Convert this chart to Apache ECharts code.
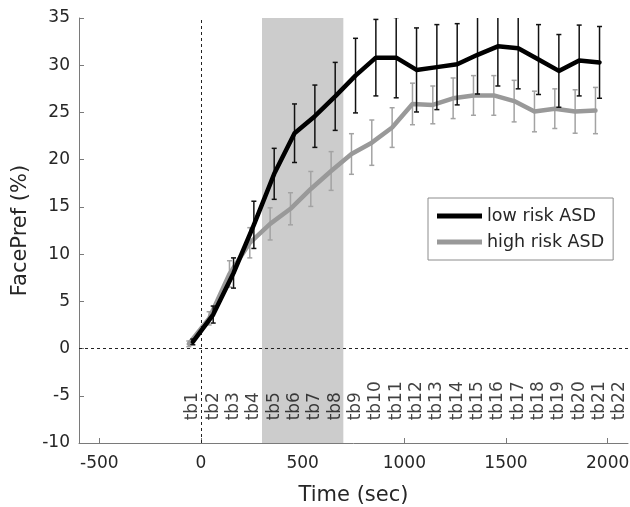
<!DOCTYPE html>
<html>
<head>
<meta charset="utf-8">
<script src="https://cdn.jsdelivr.net/npm/echarts@6/dist/echarts.min.js"></script>
<style>html,body{margin:0;padding:0;background:#fff}#c{width:630px;height:507px}</style>
</head>
<body>
<div id="c"></div>
<script>
const lowTimes  = [-40, 60, 160, 260, 360, 460, 560, 660, 760, 860, 960, 1060, 1160, 1260, 1360, 1460, 1560, 1660, 1760, 1860, 1960];
const highTimes = [-60, 40, 140, 240, 340, 440, 540, 640, 740, 840, 940, 1040, 1140, 1240, 1340, 1440, 1540, 1640, 1740, 1840, 1940];
const lowMean  = [0.7, 3.6, 8.0, 13.1, 18.5, 22.8, 24.6, 26.7, 28.9, 30.8, 30.8, 29.5, 29.8, 30.1, 31.1, 32.0, 31.8, 30.6, 29.4, 30.5, 30.3];
const lowErr   = [0.3, 0.9, 1.6, 2.5, 2.7, 3.1, 3.3, 3.6, 3.95, 4.05, 4.25, 4.45, 4.5, 4.3, 4.15, 4.2, 4.3, 3.7, 3.85, 3.75, 3.8];
const highMean = [0.5, 3.2, 7.9, 11.2, 13.2, 14.8, 16.9, 18.8, 20.6, 21.8, 23.4, 25.9, 25.8, 26.5, 26.8, 26.8, 26.2, 25.1, 25.4, 25.1, 25.2];
const highErr  = [0.3, 0.7, 1.4, 1.6, 1.7, 1.7, 1.85, 2.05, 2.15, 2.4, 2.1, 2.2, 2.0, 2.15, 2.1, 2.1, 2.2, 2.15, 2.1, 2.3, 2.45];
const tbLabels = ['tb1','tb2','tb3','tb4','tb5','tb6','tb7','tb8','tb9','tb10','tb11','tb12','tb13','tb14','tb15','tb16','tb17','tb18','tb19','tb20','tb21','tb22'];
const tbTimes  = [-40, 60, 160, 260, 360, 460, 560, 660, 760, 860, 960, 1060, 1160, 1260, 1360, 1460, 1560, 1660, 1760, 1860, 1960, 2060];
const tbY = -7.6;
const xTicks = [-500, 0, 500, 1000, 1500, 2000];
const shadeRange = [300, 700];

const FONT = 'DejaVu Sans';
const TXT = '#262626';

function errSeries(times, mean, err, color, z) {
  return {
    type: 'custom', z: z, clip: true, silent: true,
    data: times.map((t, i) => [t, mean[i] - err[i], mean[i] + err[i]]),
    renderItem: function (params, api) {
      const lo = api.coord([api.value(0), api.value(1)]);
      const hi = api.coord([api.value(0), api.value(2)]);
      const w = 2.5;
      const st = { stroke: color, lineWidth: 1.5, fill: null };
      return { type: 'group', children: [
        { type: 'line', shape: { x1: lo[0], y1: lo[1], x2: hi[0], y2: hi[1] }, style: st },
        { type: 'line', shape: { x1: lo[0] - w, y1: lo[1], x2: lo[0] + w, y2: lo[1] }, style: st },
        { type: 'line', shape: { x1: hi[0] - w, y1: hi[1], x2: hi[0] + w, y2: hi[1] }, style: st }
      ]};
    }
  };
}

const chart = echarts.init(document.getElementById('c'));
chart.setOption({
  animation: false,
  textStyle: { fontFamily: FONT },
  grid: { left: 79, right: 2, top: 18, bottom: 64, containLabel: false, outerBoundsMode: 'none' },
  legend: {
    left: 428, top: 198, orient: 'vertical',
    data: ['low risk ASD', 'high risk ASD'],
    icon: 'rect', itemWidth: 45, itemHeight: 5, itemGap: 6,
    padding: [8, 9, 8, 9],
    backgroundColor: '#fff', borderColor: '#8c8c8c', borderWidth: 1,
    textStyle: { fontFamily: FONT, fontSize: 17.5, color: TXT, lineHeight: 20 }
  },
  xAxis: {
    type: 'value', min: -600, max: 2100,
    name: 'Time (sec)', nameLocation: 'middle', nameGap: 42,
    nameTextStyle: { fontFamily: FONT, fontSize: 21, color: TXT },
    axisLine: { show: true, onZero: false, lineStyle: { color: '#7a7a7a', width: 1 } },
    axisTick: { show: true, inside: true, length: 5, customValues: xTicks, lineStyle: { color: '#7a7a7a' } },
    axisLabel: { customValues: xTicks, formatter: v => String(v), fontFamily: FONT, fontSize: 17, color: TXT, margin: 12 },
    splitLine: { show: false }
  },
  yAxis: {
    type: 'value', min: -10, max: 35, interval: 5,
    name: 'FacePref (%)', nameLocation: 'middle', nameGap: 43,
    nameTextStyle: { fontFamily: FONT, fontSize: 21, color: TXT },
    axisLine: { show: true, onZero: false, lineStyle: { color: '#7a7a7a', width: 1 } },
    axisTick: { show: true, inside: true, length: 5, lineStyle: { color: '#7a7a7a' } },
    axisLabel: { fontFamily: FONT, fontSize: 17, color: TXT, margin: 9 },
    splitLine: { show: false }
  },
  series: [
    {
      type: 'line', data: [], z: 1, silent: true,
      markArea: {
        silent: true,
        itemStyle: { color: '#cccccc' },
        data: [[{ xAxis: shadeRange[0], yAxis: -10 }, { xAxis: shadeRange[1], yAxis: 35 }]]
      },
      markLine: {
        silent: true, symbol: ['none', 'none'],
        label: { show: false },
        lineStyle: { color: '#222', width: 1, type: [3, 3] },
        data: [{ xAxis: 0 }, { yAxis: 0 }]
      }
    },
    errSeries(highTimes, highMean, highErr, '#a3a3a3', 3),
    {
      name: 'high risk ASD', type: 'line', z: 4, symbol: 'none', silent: true,
      data: highTimes.map((t, i) => [t, highMean[i]]),
      itemStyle: { color: '#999999' },
      lineStyle: { color: '#999999', width: 4.5, join: 'round', cap: 'round' }
    },
    errSeries(lowTimes, lowMean, lowErr, '#111111', 5),
    {
      name: 'low risk ASD', type: 'line', z: 6, symbol: 'none', silent: true,
      data: lowTimes.map((t, i) => [t, lowMean[i]]),
      itemStyle: { color: '#000000' },
      lineStyle: { color: '#000000', width: 4.5, join: 'round', cap: 'round' }
    },
    {
      type: 'scatter', z: 7, silent: true, symbol: 'circle', symbolSize: 2,
      itemStyle: { color: 'rgba(0,0,0,0)' },
      labelLayout: { hideOverlap: false },
      data: tbLabels.map((s, i) => [tbTimes[i], tbY, s]),
      label: {
        show: true, position: 'inside', rotate: 90, align: 'left', verticalAlign: 'middle',
        formatter: p => p.data[2], fontFamily: FONT, fontSize: 17, color: '#111'
      }
    }
  ]
});
</script>
</body>
</html>
